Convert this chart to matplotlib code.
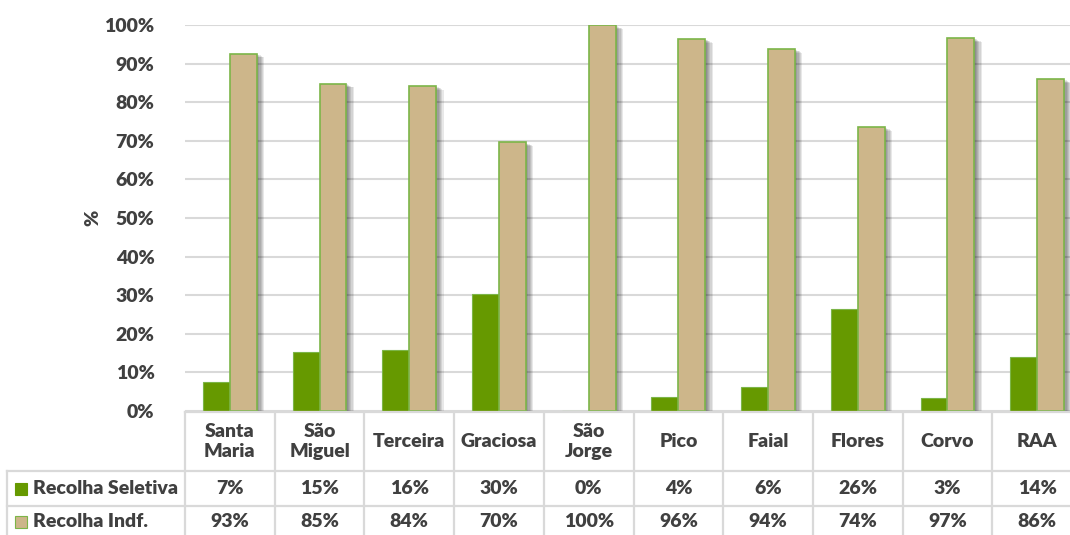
import matplotlib.pyplot as plt
import matplotlib.patheffects as pe
import matplotlib.transforms as mtransforms
from matplotlib.lines import Line2D
from matplotlib.patches import Rectangle
import numpy as np

plt.rcParams['font.family'] = ['Lato', 'DejaVu Sans']
WT = "heavy"

categories = ["Santa\nMaria", "São\nMiguel", "Terceira", "Graciosa", "São\nJorge",
              "Pico", "Faial", "Flores", "Corvo", "RAA"]
seletiva = [7.4, 15.2, 15.8, 30.4, 0.0, 3.6, 6.2, 26.4, 3.4, 14.0]
indif = [92.6, 84.8, 84.2, 69.6, 100.0, 96.4, 93.8, 73.6, 96.6, 86.0]
seletiva_lbl = ["7%", "15%", "16%", "30%", "0%", "4%", "6%", "26%", "3%", "14%"]
indif_lbl = ["93%", "85%", "84%", "70%", "100%", "96%", "94%", "74%", "97%", "86%"]
series_names = ["Recolha Seletiva", "Recolha Indf."]

GREEN = "#669900"
TAN = "#CDB68A"
EDGE = "#7CB548"
TXT = "#404040"
GRID = "#D9D9D9"

W, H = 1070, 535
fig = plt.figure(figsize=(W / 100, H / 100), dpi=100)
# plot area in pixels: left 185, right 1082 (cut by the image edge), top 25, bottom 411
ax = fig.add_axes([185 / W, 1 - 411 / H, (1082 - 185) / W, (411 - 25) / H])

x = np.arange(len(categories))
shadow = [pe.SimplePatchShadow(offset=(k * 0.9, -k * 0.45), shadow_rgbFace="black", alpha=0.09)
          for k in range(1, 7)] + [pe.Normal()]
b1 = ax.bar(x - 0.15, seletiva, width=0.3, color=GREEN, edgecolor=EDGE, linewidth=0.8, zorder=3)
b2 = ax.bar(x + 0.15, indif, width=0.3, color=TAN, edgecolor=EDGE, linewidth=1.2, zorder=3)
for bar in list(b1) + list(b2):
    if bar.get_height() > 0:
        bar.set_path_effects(shadow)

ax.set_xlim(-0.5, len(categories) - 0.5)
ax.set_ylim(0, 100)
ax.set_yticks(np.arange(0, 101, 10))
ax.set_yticklabels([f"{v}%" for v in range(0, 101, 10)], fontsize=14, color=TXT, fontweight=WT)
ax.set_xticks([])
ax.tick_params(axis="y", length=0, pad=22)
ax.yaxis.grid(True, color=GRID, linewidth=1.5, zorder=0)
for s in ax.spines.values():
    s.set_visible(False)
ax.set_ylabel("%", fontsize=14, color=TXT, fontweight=WT, labelpad=2)

# data table below the plot
tr = mtransforms.blended_transform_factory(ax.transData, fig.transFigure)

def fy(py):
    return 1 - py / H

top, r1, r2, bot = 412, 471, 506, 541
lw = 1.6
for i in range(len(categories) + 1):
    fig.add_artist(Line2D([i - 0.5, i - 0.5], [fy(top), fy(bot)], transform=tr, color=GRID, lw=lw))
fig.add_artist(Line2D([185 / W, 1], [fy(top), fy(top)], transform=fig.transFigure, color=GRID, lw=lw))
for py in (r1, r2):
    fig.add_artist(Line2D([7 / W, 1], [fy(py), fy(py)], transform=fig.transFigure, color=GRID, lw=lw))
fig.add_artist(Line2D([7 / W, 7 / W], [fy(r1), fy(bot)], transform=fig.transFigure, color=GRID, lw=lw))

for i, c in enumerate(categories):
    fig.text(i, fy((top + r1) / 2), c, transform=tr, ha="center", va="center",
             fontsize=14, color=TXT, fontweight=WT, linespacing=1.15)
    fig.text(i, fy((r1 + r2) / 2), seletiva_lbl[i], transform=tr, ha="center", va="center",
             fontsize=14, color=TXT, fontweight=WT)
    fig.text(i, fy((r2 + bot) / 2 - 2), indif_lbl[i], transform=tr, ha="center", va="center",
             fontsize=14, color=TXT, fontweight=WT)

for row, (name, col) in enumerate(zip(series_names, [GREEN, TAN])):
    yc = (r1 + r2) / 2 if row == 0 else (r2 + bot) / 2 - 2
    fig.add_artist(Rectangle((15 / W, fy(yc + 6)), 12 / W, 12 / H, transform=fig.transFigure,
                             facecolor=col, edgecolor=EDGE if row else col, lw=0.8))
    fig.text(33 / W, fy(yc), name, ha="left", va="center", fontsize=14, color=TXT, fontweight=WT)

fig.savefig("out.png", dpi=100)
